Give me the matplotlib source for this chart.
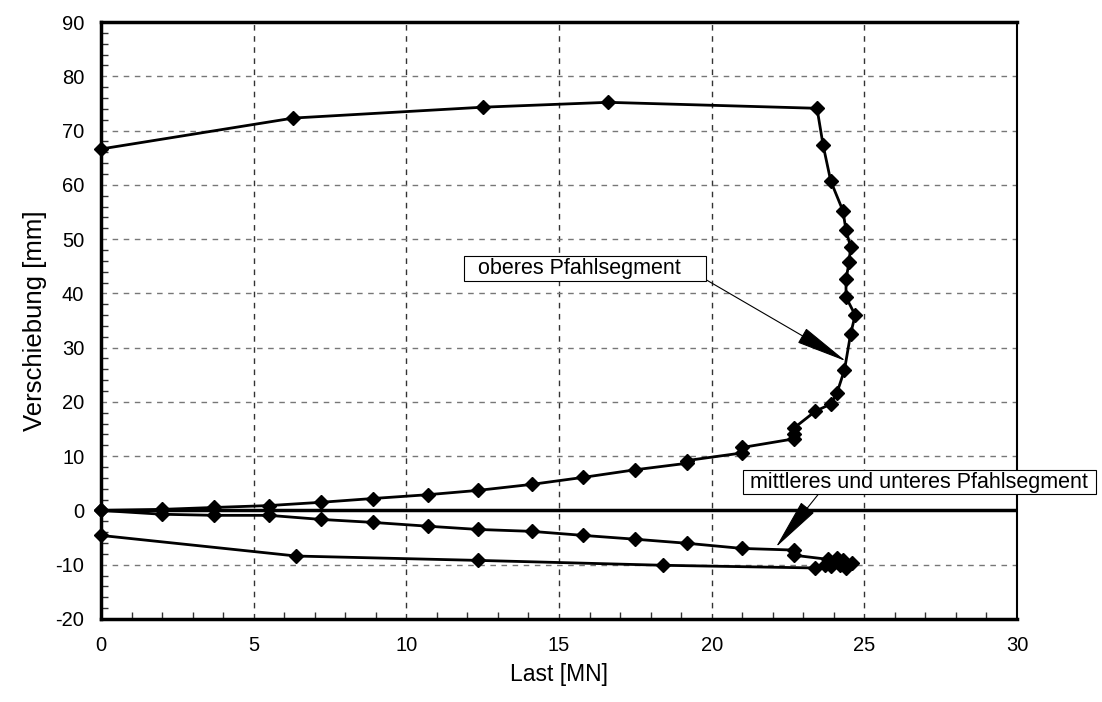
import numpy as np
import matplotlib.pyplot as plt
import matplotlib.ticker as ticker

plt.rcParams['font.family'] = ['Liberation Sans', 'DejaVu Sans']
plt.rcParams['axes.unicode_minus'] = False

# oberes Pfahlsegment: Last [MN], Verschiebung [mm]
last_oben = [0, 2.0, 3.7, 5.5, 7.2, 8.9, 10.7, 12.35, 14.1, 15.8, 17.5, 19.2, 19.2,
             21.0, 21.0, 22.7, 22.7, 22.7, 23.4, 23.9, 24.1, 24.35, 24.55, 24.7,
             24.4, 24.4, 24.5, 24.55, 24.4, 24.3, 23.9, 23.65, 23.45,
             16.6, 12.5, 6.3, 0]
versch_oben = [0, 0.2, 0.55, 0.9, 1.5, 2.2, 2.9, 3.7, 4.8, 6.1, 7.5, 8.7, 9.2,
               10.6, 11.6, 13.2, 14.1, 15.2, 18.3, 19.6, 21.6, 25.9, 32.5, 36.0,
               39.3, 42.6, 45.7, 48.6, 51.6, 55.2, 60.7, 67.3, 74.1,
               75.2, 74.3, 72.3, 66.6]

# mittleres und unteres Pfahlsegment
last_unten = [0, 2.0, 3.7, 5.5, 7.2, 8.9, 10.7, 12.35, 14.1, 15.8, 17.5, 19.2,
              21.0, 22.7, 22.7, 23.8, 24.1, 24.3, 24.6,
              24.4, 24.2, 23.9, 23.7, 23.4, 18.4, 12.35, 6.4, 0]
versch_unten = [0, -0.7, -0.9, -0.9, -1.65, -2.2, -2.9, -3.5, -3.85, -4.6, -5.3, -6.05,
                -7.0, -7.3, -8.25, -9.0, -8.8, -9.2, -9.7,
                -10.6, -10.1, -10.3, -10.1, -10.6, -10.1, -9.2, -8.4, -4.6]

fig = plt.figure(figsize=(11.02, 7.02), dpi=100)
ax = fig.add_axes([101/1102, 1-619/702, (1017-101)/1102, (619-22)/702])

ax.set_xlim(0, 30)
ax.set_ylim(-20, 90)
ax.xaxis.set_major_locator(ticker.MultipleLocator(5))
ax.xaxis.set_minor_locator(ticker.MultipleLocator(1))
ax.yaxis.set_major_locator(ticker.MultipleLocator(10))
ax.yaxis.set_minor_locator(ticker.MultipleLocator(2))
ax.tick_params(which='both', direction='in', top=False, right=False, labelsize=14.5)
ax.tick_params(which='major', length=0)
ax.tick_params(which='minor', length=5, width=1, color='#333333')
ax.tick_params(axis='x', pad=12)
ax.tick_params(axis='y', pad=12)

ax.xaxis.grid(True, which='major', linestyle=(0, (4, 4)), color='#333333', linewidth=1)
ax.yaxis.grid(True, which='major', linestyle=(0, (4, 4)), color='#777777', linewidth=1)

for side in ['left', 'bottom', 'top']:
    ax.spines[side].set_linewidth(2.5)
ax.spines['right'].set_linewidth(1.5)

ax.axhline(0, color='black', linewidth=2.5, zorder=3)

ax.plot(last_oben, versch_oben, color='black', linewidth=2, marker='D',
        markersize=7, zorder=4, clip_on=False)
ax.plot(last_unten, versch_unten, color='black', linewidth=2, marker='D',
        markersize=7, zorder=4, clip_on=False)

ax.set_xlabel('Last [MN]', fontsize=16.5, labelpad=6)
ax.set_ylabel('Verschiebung [mm]', fontsize=18.5, labelpad=6)

arrow = dict(arrowstyle='-|>,head_length=2.8,head_width=0.45', color='black',
             lw=0.8, mutation_scale=12, shrinkA=0, shrinkB=0)
box = dict(boxstyle='square,pad=0.08', facecolor='white', edgecolor='black', lw=0.8)

ax.annotate('  oberes Pfahlsegment    ', xy=(24.4, 27.5), xytext=(11.95, 44.6),
            fontsize=15.5, ha='left', va='center', bbox=box,
            arrowprops=dict(arrow, relpos=(1, 0)), zorder=5)
ax.annotate(' mittleres und unteres Pfahlsegment ', xy=(22.1, -6.8), xytext=(21.07, 5.2),
            fontsize=15.5, ha='left', va='center', bbox=box,
            arrowprops=dict(arrow, relpos=(0.215, 0)), zorder=5)

fig.savefig('out.png', dpi=100)
